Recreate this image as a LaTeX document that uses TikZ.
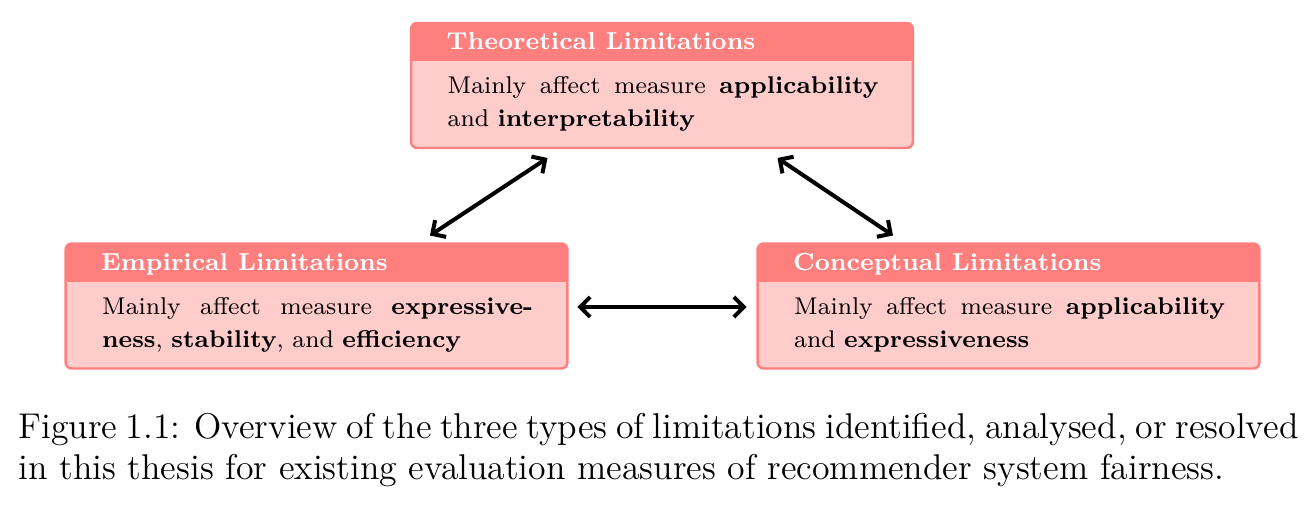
\documentclass[tikz,border=0pt]{standalone}
\usetikzlibrary{arrows.meta}
\definecolor{barred}{HTML}{FF7F7F}
\definecolor{bodyred}{HTML}{FFCCCC}
\begin{document}
\begin{tikzpicture}[x=0.324pt,y=-0.324pt,
  limbox/.style={rectangle, minimum width=162.6pt, minimum height=40.5pt,
    inner sep=0pt, outer sep=0pt},
  boxborder/.style={draw=barred, line width=0.8pt, rounded corners=2pt},
  titletext/.style={inner sep=0pt, text=white, font=\fontsize{7.95}{10.7}\selectfont\bfseries},
  bodytext/.style={inner sep=0pt, text width=139.6pt, align=justify,
    font=\fontsize{7.85}{10.7}\selectfont},
  conn/.style={line width=1.3pt, line cap=round,
    {Straight Barb[length=3.2pt,width=6.5pt]}-{Straight Barb[length=3.2pt,width=6.5pt]}},
  captext/.style={inner sep=0pt, text width=414.7pt, align=justify,
    font=\fontsize{11.6}{13.6}\selectfont}
]
\useasboundingbox (0,0) rectangle (1316,505);

% boxes
\node[limbox] (top) at (662,85.5) {};
\node[limbox] (left) at (316.5,306) {};
\node[limbox] (right) at (1008.5,306) {};

\foreach \b in {top,left,right}{
  \fill[bodyred, rounded corners=2pt] (\b.north west) rectangle (\b.south east);
  \begin{scope}
    \clip[rounded corners=2pt] (\b.north west) rectangle (\b.south east);
    \fill[barred] (\b.north west) rectangle ([shift={(0,38)}]\b.north east);
  \end{scope}
  \draw[boxborder] (\b.north west) rectangle (\b.south east);
}

% titles
\node[titletext, anchor=base west] (topT) at ([shift={(35,27)}]top.north west) {Theoretical Limitations};
\node[titletext, anchor=base west] (leftT) at ([shift={(35,27)}]left.north west) {Empirical Limitations};
\node[titletext, anchor=base west] (rightT) at ([shift={(35,27)}]right.north west) {Conceptual Limitations};

% bodies
\node[bodytext, anchor=north west] (topB) at ([shift={(36,53)}]top.north west)
  {Mainly affect measure \textbf{applicability} and \textbf{interpretability}};
\node[bodytext, anchor=north west] (leftB) at ([shift={(36,53)}]left.north west)
  {Mainly affect measure \textbf{expressiveness}, \textbf{stability}, and \textbf{efficiency}};
\node[bodytext, anchor=north west] (rightB) at ([shift={(36,53)}]right.north west)
  {Mainly affect measure \textbf{applicability} and \textbf{expressiveness}};

% connectors
\draw[conn] ([shift={(113.5,-8)}]left.north) -- ([shift={(-114.5,10)}]top.south);
\draw[conn] ([shift={(115.5,10)}]top.south) -- ([shift={(-115.5,-8)}]right.north);
\draw[conn] ([shift={(10,1)}]left.east) -- ([shift={(-11,1)}]right.west);

% caption
\node[captext, anchor=base west] (cap) at (18,438)
  {Figure 1.1: Overview of the three types of limitations identified, analysed, or resolved in this thesis for existing evaluation measures of recommender system fairness.};
\end{tikzpicture}
\end{document}
